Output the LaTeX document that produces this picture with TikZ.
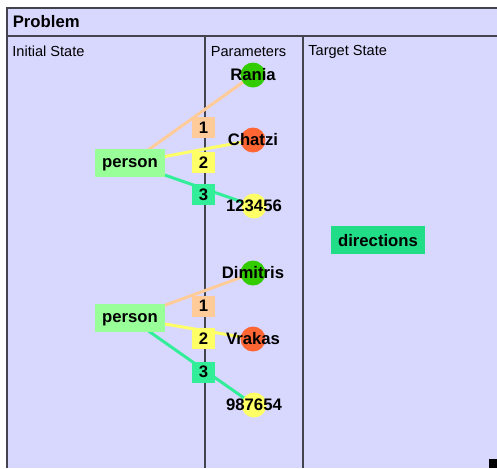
\documentclass[tikz,border=0pt]{standalone}
\usepackage{fontspec}
\setmainfont{Liberation Sans}
\usetikzlibrary{positioning,backgrounds}
\definecolor{panelbg}{HTML}{D8D8FF}
\definecolor{rule}{HTML}{444450}
\definecolor{objgreen}{HTML}{99FF99}
\definecolor{goalgreen}{HTML}{22DD88}
\definecolor{dotgreen}{HTML}{33CC00}
\definecolor{dotred}{HTML}{FF6633}
\definecolor{dotyellow}{HTML}{FFFF66}
\definecolor{argone}{HTML}{FFCC99}
\definecolor{argtwo}{HTML}{FFFF66}
\definecolor{argthree}{HTML}{33EE99}
\tikzset{
	boldtxt/.style={font=\fontsize{9.5}{11}\selectfont\bfseries},
	headtxt/.style={font=\fontsize{8.3}{10}\selectfont, anchor=west, inner sep=0pt},
	object/.style={boldtxt, fill=objgreen, minimum width=1.4cm, minimum height=0.56cm, inner sep=0pt, text depth=0pt},
	goal/.style={boldtxt, fill=goalgreen, minimum width=1.88cm, minimum height=0.56cm, inner sep=0pt, text depth=0pt},
	param/.style={circle, minimum size=0.5cm, inner sep=0pt, label={[boldtxt]center:#1}},
	argbox/.style={boldtxt, minimum width=0.46cm, minimum height=0.42cm, inner sep=0pt},
	link/.style={line width=1.7pt},
	divider/.style={line width=1.2pt, color=rule}
}
\begin{document}
\begin{tikzpicture}[x=0.02cm, y=-0.02cm]
			%%%%% FRAME %%%%%
			\useasboundingbox (0,0) rectangle (497,468);
			
			\node[headtxt, font=\fontsize{9.5}{11}\selectfont\bfseries] (title) at (12.5,22) {Problem};
			\node[headtxt] (initial) at (12,51.5) {Initial State};
			\node[headtxt] (params) at (210.5,51.5) {Parameters};
			\node[headtxt] (target) at (308,51.5) {Target State};
			
			%%%%% OBJECTS %%%%%
			\node[object] (pa) at (130,163) {person};
			\node[object] (pb) at (130,318) {person};
			\node[goal] (dirs) at (378,240) {directions};
			
			\node[param=Rania, fill=dotgreen] (rania) at (253,75) {};
			\node[param=Chatzi, fill=dotred] (chatzi) at (253,140) {};
			\node[param=123456, fill=dotyellow] (numa) at (254,206) {};
			
			\node[param=Dimitris, fill=dotgreen] (dimitris) at (253,273) {};
			\node[param=Vrakas, fill=dotred] (vrakas) at (253,339) {};
			\node[param=987654, fill=dotyellow] (numb) at (254,405) {};
			
			%%%%% ARGUMENTS %%%%%
			\node[argbox, fill=argone] (a1) at (203.5,127.5) {1};
			\node[argbox, fill=argtwo] (a2) at (203.5,162.5) {2};
			\node[argbox, fill=argthree] (a3) at (203.5,194.5) {3};
			
			\node[argbox, fill=argone] (b1) at (203.5,306) {1};
			\node[argbox, fill=argtwo] (b2) at (203.5,338.5) {2};
			\node[argbox, fill=argthree] (b3) at (203.5,372) {3};
			
			\begin{scope}[on background layer]
				\fill[panelbg] (7,8) rectangle (497,468);
				\draw[divider] (7,468) -- (7,8) -- (497,8);
				\draw[divider] (7,36) -- (497,36);
				\draw[divider] (205,36) -- (205,468);
				\draw[divider] (303,36) -- (303,468);
				
				\draw[link, argone] (pa.center) -- (rania.center);
				\draw[link, argtwo] (pa.center) -- (chatzi.center);
				\draw[link, argthree] (pa.center) -- (numa.center);
				
				\draw[link, argone] (pb.center) -- (dimitris.center);
				\draw[link, argtwo] (pb.center) -- (vrakas.center);
				\draw[link, argthree] (pb.center) -- (numb.center);
			\end{scope}
			
			\fill[black] (488.5,458.5) rectangle (497,468);
			
			%%%%% END %%%%%
\end{tikzpicture}
\end{document}
